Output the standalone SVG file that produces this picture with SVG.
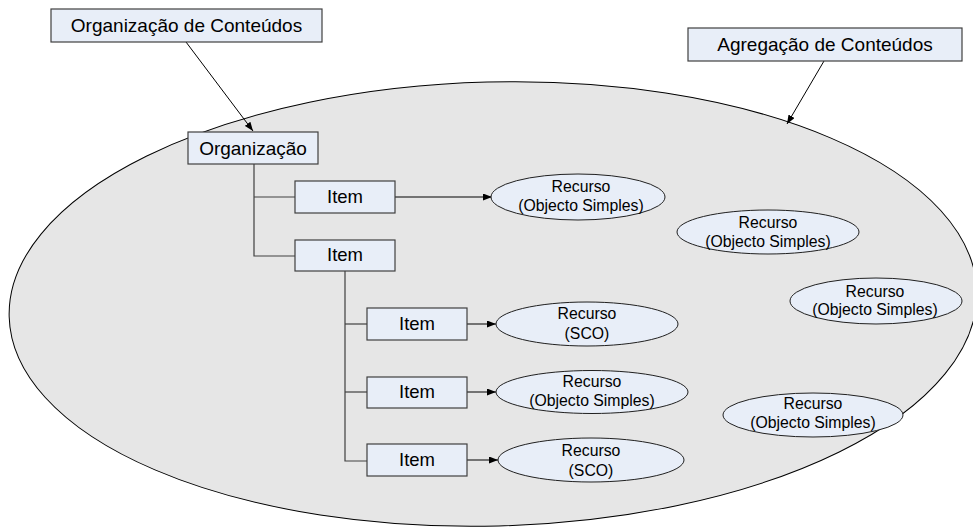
<svg xmlns="http://www.w3.org/2000/svg" width="973" height="527" viewBox="0 0 973 527">
  <defs>
    <marker id="arrow" viewBox="0 0 9 7" refX="9" refY="3.5" markerWidth="9" markerHeight="7" markerUnits="userSpaceOnUse" orient="auto">
      <path d="M0,0 L9,3.5 L0,7 Z" fill="#000"/>
    </marker>
    <style>
      .box { fill: #E8EEF8; stroke: #404040; stroke-width: 1.2; }
      .res { fill: #E8EEF8; stroke: #202020; stroke-width: 1; }
      .lbl { font-family: "Liberation Sans", Arial, sans-serif; font-size: 19px; fill: #000; text-anchor: middle; }
      .item { font-family: "Liberation Sans", Arial, sans-serif; font-size: 18.5px; fill: #000; text-anchor: middle; }
      .small { font-family: "Liberation Sans", Arial, sans-serif; font-size: 15.8px; fill: #000; text-anchor: middle; }
      .tree { fill: none; stroke: #404040; stroke-width: 1.2; }
      .arr { fill: none; stroke: #000; stroke-width: 1; marker-end: url(#arrow); }
    </style>
  </defs>
  <rect width="973" height="527" fill="#fff"/>

  <!-- content aggregation boundary -->
  <g id="aggregation">
    <ellipse cx="493" cy="304" rx="484" ry="222" transform="rotate(-1.5 493 304)" fill="#E6E6E6" stroke="#000" stroke-width="1"/>
  </g>

  <g id="connectors">
    <line class="arr" x1="186" y1="42" x2="253" y2="131"/>
    <line class="arr" x1="824" y1="61" x2="787" y2="124"/>
    <!-- organization tree -->
    <polyline class="tree" points="254,164 254,256 295,256"/>
    <line class="tree" x1="254" y1="197" x2="295" y2="197"/>
    <polyline class="tree" points="345,271 345,461 367,461"/>
    <line class="tree" x1="345" y1="324" x2="367" y2="324"/>
    <line class="tree" x1="345" y1="392" x2="367" y2="392"/>
    <!-- item to resource -->
    <line class="arr" x1="395" y1="197" x2="492" y2="197"/>
    <line class="arr" x1="467" y1="324" x2="496" y2="324"/>
    <line class="arr" x1="467" y1="392" x2="496" y2="392"/>
    <line class="arr" x1="467" y1="460" x2="498" y2="460"/>
  </g>

  <g id="org-conteudos">
    <rect class="box" x="51" y="9" width="271" height="33"/>
    <text class="lbl" x="186.5" y="32">Organização de Conteúdos</text>
  </g>
  <g id="agreg-conteudos">
    <rect class="box" x="688" y="28" width="274" height="33"/>
    <text class="lbl" x="825" y="51">Agregação de Conteúdos</text>
  </g>
  <g id="organizacao">
    <rect class="box" x="188" y="132" width="130" height="32"/>
    <text class="lbl" x="253" y="155">Organização</text>
  </g>
  <g id="item1">
    <rect class="box" x="295" y="181" width="100" height="32"/>
    <text class="item" x="345" y="203">Item</text>
  </g>
  <g id="item2">
    <rect class="box" x="295" y="240" width="100" height="31"/>
    <text class="item" x="345" y="261">Item</text>
  </g>
  <g id="item3">
    <rect class="box" x="367" y="308" width="100" height="32"/>
    <text class="item" x="417" y="330">Item</text>
  </g>
  <g id="item4">
    <rect class="box" x="367" y="377" width="100" height="31"/>
    <text class="item" x="417" y="398">Item</text>
  </g>
  <g id="item5">
    <rect class="box" x="367" y="444" width="100" height="32"/>
    <text class="item" x="417" y="466">Item</text>
  </g>

  <g id="recurso1">
    <ellipse class="res" cx="578" cy="197" rx="87" ry="23"/>
    <text class="small" x="581" y="192">Recurso</text>
    <text class="small" x="581" y="211">(Objecto Simples)</text>
  </g>
  <g id="recurso2">
    <ellipse class="res" cx="587" cy="324" rx="91" ry="22"/>
    <text class="small" x="587" y="319">Recurso</text>
    <text class="small" x="587" y="339">(SCO)</text>
  </g>
  <g id="recurso3">
    <ellipse class="res" cx="592" cy="392" rx="96" ry="21.5"/>
    <text class="small" x="592" y="387">Recurso</text>
    <text class="small" x="592" y="406">(Objecto Simples)</text>
  </g>
  <g id="recurso4">
    <ellipse class="res" cx="591" cy="460" rx="93" ry="22"/>
    <text class="small" x="591" y="456">Recurso</text>
    <text class="small" x="591" y="476">(SCO)</text>
  </g>
  <g id="recurso5">
    <ellipse class="res" cx="768" cy="232" rx="91" ry="22"/>
    <text class="small" x="768" y="228">Recurso</text>
    <text class="small" x="768" y="247">(Objecto Simples)</text>
  </g>
  <g id="recurso6">
    <ellipse class="res" cx="876" cy="301" rx="86" ry="23"/>
    <text class="small" x="875" y="297">Recurso</text>
    <text class="small" x="875" y="315">(Objecto Simples)</text>
  </g>
  <g id="recurso7">
    <ellipse class="res" cx="813" cy="415" rx="90" ry="22"/>
    <text class="small" x="813" y="409">Recurso</text>
    <text class="small" x="813" y="428">(Objecto Simples)</text>
  </g>
</svg>
